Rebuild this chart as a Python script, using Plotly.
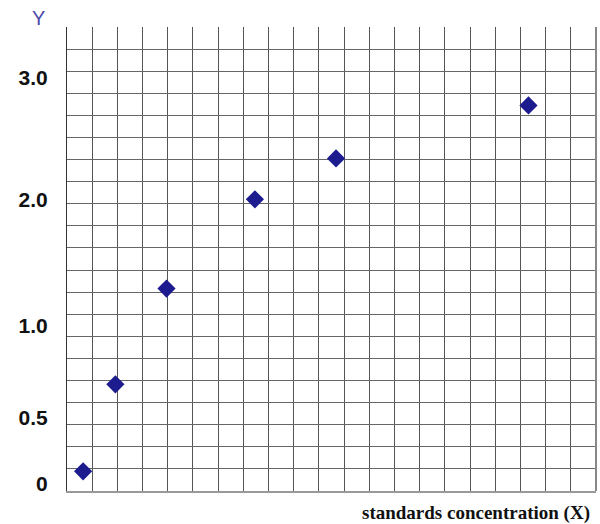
import plotly.graph_objects as go

# Data in grid-cell units (grid is 21 x 21 cells)
x_vals = [0.64, 1.92, 3.95, 7.46, 10.68, 18.32]
y_vals = [0.89, 4.83, 9.16, 13.2, 15.05, 17.45]

# Y tick labels and their positions (grid units)
ytick_pos = [0.35, 3.3, 7.5, 13.2, 18.7]
ytick_text = ["0", "0.5", "1.0", "2.0", "3.0"]

fig = go.Figure()
fig.add_trace(go.Scatter(
    x=x_vals, y=y_vals, mode="markers",
    marker=dict(symbol="diamond", size=14, color="#1c1c8e", line=dict(width=0)),
    showlegend=False, yaxis="y",
))
# invisible trace for label axis
fig.add_trace(go.Scatter(x=[None], y=[None], yaxis="y2", showlegend=False))

fig.update_layout(
    width=600, height=524,
    margin=dict(l=67, r=4, t=27, b=33),
    paper_bgcolor="white", plot_bgcolor="white",
    xaxis=dict(range=[0, 21], dtick=1, tick0=0, showgrid=True, gridcolor="#555555",
               gridwidth=1, showticklabels=False, zeroline=False, showline=True,
               linecolor="#999999", linewidth=2, mirror=False, fixedrange=True),
    yaxis=dict(range=[0, 21], dtick=1, tick0=0, showgrid=True, gridcolor="#666666",
               gridwidth=1, showticklabels=False, zeroline=False, showline=True,
               linecolor="#333333", linewidth=1),
    yaxis2=dict(range=[0, 21], overlaying="y", side="left", showgrid=False,
                zeroline=False, tickmode="array", tickvals=ytick_pos, ticktext=ytick_text,
                ticks="outside", ticklen=14, tickcolor="rgba(0,0,0,0)",
                tickfont=dict(family="Liberation Sans, Arial", size=21, color="#111111",
                              weight="bold")),
    shapes=[dict(type="line", xref="paper", yref="paper", x0=1, x1=1, y0=0, y1=1,
                 line=dict(color="#888888", width=2))],
    annotations=[
        dict(text="Y", xref="paper", yref="paper", x=-0.054, y=1.0, xanchor="center",
             yanchor="bottom", showarrow=False, yshift=-4,
             font=dict(family="Liberation Sans, Arial", size=20, color="#4a4aa8")),
        dict(text="<b>standards concentration (X)</b>", xref="paper", yref="paper",
             x=0.992, y=0, xanchor="right", yanchor="top", yshift=-9, showarrow=False,
             font=dict(family="Liberation Serif, Times New Roman", size=19, color="#111111")),
    ],
)

fig.write_html("out.html", config={"displayModeBar": False},
               post_script="document.body.style.margin='0';document.body.style.overflow='hidden';")
